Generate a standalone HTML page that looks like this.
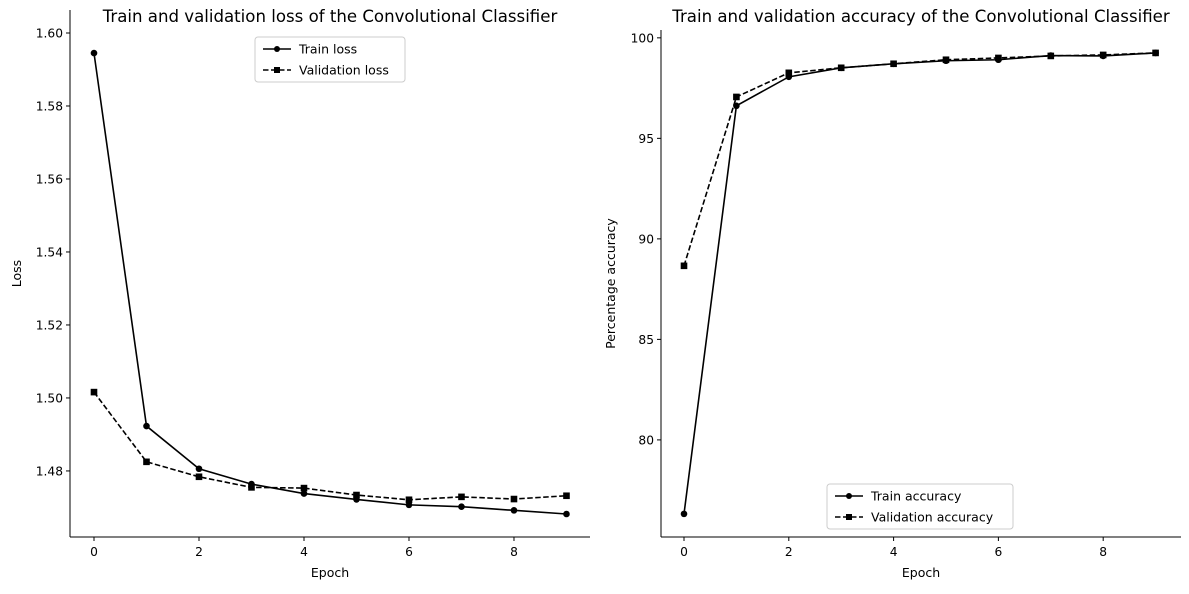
<!DOCTYPE html>
<html><head><meta charset="utf-8"><style>
body{margin:0;background:#fff;font-family:"DejaVu Sans",sans-serif;}
svg text{font-family:"DejaVu Sans",sans-serif;fill:#000;}
</style></head><body>
<svg id="c" width="1189" height="590" xmlns="http://www.w3.org/2000/svg"></svg>
<script>
const epochs=[0,1,2,3,4,5,6,7,8,9];
const trainLoss=[1.5945,1.4923,1.4806,1.4764,1.4738,1.4722,1.4707,1.4702,1.4692,1.4682];
const valLoss=[1.5016,1.4825,1.4784,1.4755,1.4753,1.4734,1.4721,1.4729,1.4723,1.4732];
const trainAcc=[76.32,96.62,98.06,98.51,98.71,98.86,98.91,99.12,99.10,99.25];
const valAcc=[88.66,97.06,98.26,98.51,98.71,98.91,99.00,99.10,99.15,99.25];
const xTicks=[0,2,4,6,8];
const lossTicks=[1.48,1.50,1.52,1.54,1.56,1.58,1.60];
const accTicks=[80,85,90,95,100];
const svg=document.getElementById('c');
const NS='http://www.w3.org/2000/svg';
const FS=13.6, TFS=16.6;
function mk(t,a,p){const e=document.createElementNS(NS,t);for(const k in a)e.setAttribute(k,a[k]);(p||svg).appendChild(e);return e;}
function panel(o){
 const g=mk('g',{});
 
 
 const X=v=>o.x0+(v-o.xmin)/(o.xmax-o.xmin)*(o.x1-o.x0);
 const Y=v=>o.y1-(v-o.ymin)/(o.ymax-o.ymin)*(o.y1-o.y0);
 mk('line',{x1:o.x0,y1:o.y0,x2:o.x0,y2:o.y1,stroke:'#000','stroke-width':1},g);
 mk('line',{x1:o.x0,y1:o.y1,x2:o.x1,y2:o.y1,stroke:'#000','stroke-width':1},g);
 xTicks.forEach(t=>{mk('line',{x1:X(t),x2:X(t),y1:o.y1,y2:o.y1+4,stroke:'#000'},g);
  const tx=mk('text',{x:X(t),y:o.y1+19,'font-size':FS*0.9,'text-anchor':'middle'},g);tx.textContent=t;
  });
 o.yt.forEach(t=>{mk('line',{x1:o.x0-4,x2:o.x0,y1:Y(t),y2:Y(t),stroke:'#000'},g);
  const tx=mk('text',{x:o.x0-7,y:Y(t)+4.5,'font-size':FS*0.9,'text-anchor':'end'},g);tx.textContent=o.fmt(t);
  });
 const xl=mk('text',{x:(o.x0+o.x1)/2,y:577,'font-size':FS*0.92,'text-anchor':'middle'},g);xl.textContent='Epoch';
 
 const yl=mk('text',{x:o.ylx,y:(o.y0+o.y1)/2,'font-size':FS*0.92,'text-anchor':'middle',transform:`rotate(-90 ${o.ylx} ${(o.y0+o.y1)/2})`},g);yl.textContent=o.ylabel;
 
 const ti=mk('text',{x:(o.x0+o.x1)/2,y:22,'font-size':TFS,'text-anchor':'middle'},g);ti.textContent=o.title;
 
 o.series.forEach(s=>{
  const pl=mk('polyline',{points:epochs.map((e,i)=>X(e)+','+Y(s.d[i])).join(' '),fill:'none',stroke:'#000','stroke-width':1.6,'stroke-dasharray':s.dash?'5.5,2.5':'none'},g);
  
  epochs.forEach((e,i)=>{const m=s.dash?mk('rect',{x:X(e)-3.3,y:Y(s.d[i])-3.3,width:6.6,height:6.6,fill:'#000'},g):mk('circle',{cx:X(e),cy:Y(s.d[i]),r:3.3,fill:'#000'},g);
   });
 });
 const lg=mk('g',{},g);
 mk('rect',{x:o.lx,y:o.ly,width:o.lw,height:45,rx:3,fill:'#fff',stroke:'#ccc'},lg);
 o.series.forEach((s,i)=>{const yy=o.ly+12+i*21;
  mk('line',{x1:o.lx+8,x2:o.lx+36,y1:yy,y2:yy,stroke:'#000','stroke-width':1.6,'stroke-dasharray':s.dash?'5.5,2.5':'none'},lg);
  if(s.dash)mk('rect',{x:o.lx+19,y:yy-3,width:6,height:6},lg);else mk('circle',{cx:o.lx+22,cy:yy,r:3},lg);
  const t=mk('text',{x:o.lx+44,y:yy+4.5,'font-size':FS*0.92},lg);t.textContent=s.label;
  });
}
panel({name:'loss-chart',x0:70,x1:590,y0:10,y1:537,xmin:-0.457,xmax:9.448,ymin:1.4619,ymax:1.6063,yt:lossTicks,fmt:v=>v.toFixed(2),ylabel:'Loss',ylx:21,title:'Train and validation loss of the Convolutional Classifier',lx:255,ly:37,lw:150,
 series:[{d:trainLoss,label:'Train loss',name:'train-loss'},{d:valLoss,label:'Validation loss',name:'validation-loss',dash:1}]});
panel({name:'accuracy-chart',x0:661,x1:1181,y0:30,y1:537,xmin:-0.439,xmax:9.485,ymin:75.17,ymax:100.39,yt:accTicks,fmt:v=>v,ylabel:'Percentage accuracy',ylx:615,title:'Train and validation accuracy of the Convolutional Classifier',lx:827,ly:484,lw:186,
 series:[{d:trainAcc,label:'Train accuracy',name:'train-accuracy'},{d:valAcc,label:'Validation accuracy',name:'validation-accuracy',dash:1}]});
</script>
</body></html>
